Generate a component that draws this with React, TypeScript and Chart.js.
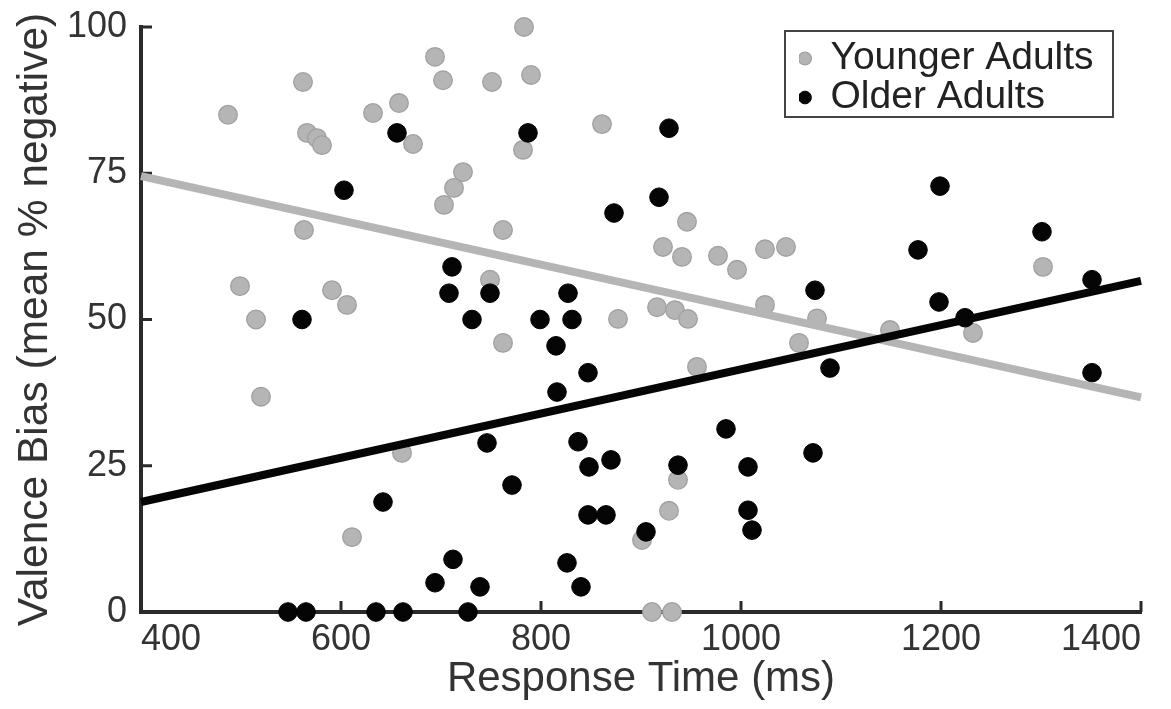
import React, { useEffect, useRef } from 'react';
import { Chart, registerables } from 'chart.js';

Chart.register(...registerables);

// Younger adults (grey)
const youngerRT = [487, 562, 566, 576, 581, 632, 658, 672, 694, 702, 722, 713, 703, 563, 499, 591, 606, 515, 520, 611, 661, 783, 751, 790, 782, 861, 762, 946, 922, 941, 977, 996, 1024, 1045, 749, 916, 934, 947, 877, 1024, 1058, 1076, 956, 762, 937, 928, 901, 911, 931, 1149, 1232, 1302];
const youngerBias = [85.0, 90.6, 81.9, 81.0, 79.8, 85.3, 87.0, 80.0, 94.9, 90.9, 75.2, 72.5, 69.6, 65.3, 55.7, 55.0, 52.5, 50.0, 36.8, 12.8, 27.2, 100, 90.6, 91.8, 79.0, 83.4, 65.3, 66.7, 62.4, 60.7, 60.9, 58.5, 62.0, 62.4, 56.8, 52.1, 51.6, 50.1, 50.1, 52.5, 46.0, 50.2, 41.9, 46.0, 22.6, 17.3, 12.3, 0, 0, 48.2, 47.7, 59.0];

// Older adults (black)
const olderRT = [656, 603, 711, 708, 561, 731, 787, 928, 873, 918, 749, 827, 1074, 799, 831, 1199, 1177, 1301, 1198, 1351, 1224, 815, 847, 816, 746, 837, 848, 870, 771, 937, 985, 1007, 1007, 1011, 847, 865, 905, 826, 840, 739, 727, 1089, 1351, 1072, 642, 712, 694, 547, 565, 635, 662];
const olderBias = [81.9, 72.1, 59.0, 54.5, 50, 50, 81.9, 82.7, 68.2, 70.9, 54.5, 54.5, 55.0, 50, 50, 72.8, 61.9, 65.0, 53.0, 56.8, 50.3, 45.5, 40.9, 37.6, 28.9, 29.1, 24.8, 26.0, 21.7, 25.1, 31.3, 24.8, 17.4, 14.0, 16.6, 16.6, 13.7, 8.4, 4.3, 4.3, 0, 41.7, 40.9, 27.2, 18.8, 9.0, 5.0, 0, 0, 0, 0];

// Regression lines
const fitRT = [400, 1400];
const youngerFit = [74.5, 36.7];
const olderFit = [18.8, 56.6];

// Axis ticks
const xTicks = [400, 600, 800, 1000, 1200, 1400];
const yTicks = [0, 25, 50, 75, 100];

const FONT = "'Liberation Sans', Arial, Helvetica, sans-serif";
const TEXT = '#333333';
const AXIS = '#2a2a2a';
const GREY = '#b5b5b5';
const GREY_EDGE = '#a0a0a0';
const BLACK = '#050505';

const toXY = (xs: number[], ys: number[]) => xs.map((x, i) => ({ x, y: ys[i] }));

const axesPlugin = {
  id: 'matlabAxes',
  beforeDraw(chart: any) {
    const lg = chart.legend;
    const ca = chart.chartArea;
    if (lg && ca) {
      const left = ca.right - 342;
      const top = ca.top + 12;
      const w = lg.width;
      lg.left = left;
      lg.top = top;
      lg.right = left + w;
      lg.bottom = top + 200;
    }
  },
  beforeDatasetsDraw(chart: any) {
    const { ctx, chartArea, scales } = chart;
    const xs = scales.x;
    const ys = scales.y;
    ctx.save();
    ctx.strokeStyle = AXIS;
    ctx.lineWidth = 3;
    ctx.lineCap = 'butt';
    ctx.beginPath();
    for (const v of xTicks) {
      const px = xs.getPixelForValue(v);
      ctx.moveTo(px, chartArea.bottom);
      ctx.lineTo(px, chartArea.bottom - 11);
    }
    for (const v of yTicks) {
      const py = ys.getPixelForValue(v);
      ctx.moveTo(chartArea.left, py);
      ctx.lineTo(chartArea.left + 11, py);
    }
    ctx.stroke();
    ctx.restore();
  },
  afterDraw(chart: any) {
    const lg = chart.legend;
    const ca = chart.chartArea;
    if (!lg || !ca) return;
    const { ctx } = chart;
    const left = ca.right - 356;
    const top = ca.top + 4;
    ctx.save();
    ctx.strokeStyle = '#444444';
    ctx.lineWidth = 2;
    ctx.strokeRect(left, top, 328, 86);
    ctx.restore();
  },
};

export default function App() {
  const ref = useRef<HTMLCanvasElement>(null);

  useEffect(() => {
    if (!ref.current) return;
    const chart = new Chart(ref.current, {
      type: 'scatter',
      data: {
        datasets: [
          {
            label: 'Older fit',
            data: toXY(fitRT, olderFit),
            showLine: true,
            borderColor: BLACK,
            backgroundColor: BLACK,
            borderWidth: 8,
            pointRadius: 0,
            borderCapStyle: 'butt',
            clip: false,
          } as any,
          {
            label: 'Younger fit',
            data: toXY(fitRT, youngerFit),
            showLine: true,
            borderColor: GREY,
            backgroundColor: GREY,
            borderWidth: 8,
            pointRadius: 0,
            borderCapStyle: 'butt',
            clip: false,
          } as any,
          {
            label: 'Older Adults',
            data: toXY(olderRT, olderBias),
            backgroundColor: BLACK,
            borderColor: '#000000',
            borderWidth: 1,
            pointRadius: 9.3,
            pointHoverRadius: 9.3,
            clip: false,
          } as any,
          {
            label: 'Younger Adults',
            data: toXY(youngerRT, youngerBias),
            backgroundColor: GREY,
            borderColor: GREY_EDGE,
            borderWidth: 1.3,
            pointRadius: 9.3,
            pointHoverRadius: 9.3,
            clip: false,
          } as any,
        ],
      },
      options: {
        responsive: false,
        animation: false,
        devicePixelRatio: 1,
        events: [],
        layout: { padding: { left: 0, right: 30, top: 27, bottom: 0 } },
        plugins: {
          tooltip: { enabled: false },
          legend: {
            display: true,
            position: 'chartArea',
            align: 'start',
            labels: {
              usePointStyle: true,
              pointStyle: 'circle',
              boxWidth: 12,
              boxHeight: 9,
              padding: 0,
              color: '#222222',
              font: { family: FONT, size: 39 },
              filter: (item: any) => item.datasetIndex >= 2,
              sort: (a: any, b: any) => b.datasetIndex - a.datasetIndex,
            },
          } as any,
        },
        scales: {
          x: {
            type: 'linear',
            min: 400,
            max: 1400,
            afterBuildTicks: (scale: any) => {
              scale.ticks = xTicks.map((v) => ({ value: v }));
            },
            afterFit: (scale: any) => {
              scale.height = 97;
              scale.paddingLeft = 0;
              scale.paddingRight = 0;
            },
            ticks: {
              align: 'inner',
              autoSkip: false,
              maxRotation: 0,
              padding: 6,
              color: TEXT,
              font: { family: FONT, size: 36 },
              callback: (v: any) => String(v),
            },
            grid: { display: true, drawOnChartArea: false, drawTicks: false },
            border: { display: true, color: AXIS, width: 4 },
            title: {
              display: true,
              text: 'Response Time (ms)',
              color: TEXT,
              font: { family: FONT, size: 42 },
              padding: { top: 0, bottom: 4 },
            },
          },
          y: {
            type: 'linear',
            min: 0,
            max: 100,
            afterBuildTicks: (scale: any) => {
              scale.ticks = yTicks.map((v) => ({ value: v }));
            },
            afterFit: (scale: any) => {
              scale.width = 141;
              scale.paddingTop = 0;
              scale.paddingBottom = 0;
            },
            ticks: {
              padding: 14,
              color: TEXT,
              font: { family: FONT, size: 36 },
              callback: (v: any) => String(v),
            },
            grid: { display: true, drawOnChartArea: false, drawTicks: false },
            border: { display: true, color: AXIS, width: 4 },
            title: {
              display: true,
              text: 'Valence Bias (mean % negative)',
              color: TEXT,
              font: { family: FONT, size: 42.5 },
              padding: { top: 10, bottom: 0 },
            },
          },
        },
      },
      plugins: [axesPlugin as any],
    });
    return () => chart.destroy();
  }, []);

  return (
    <div style={{ position: 'fixed', left: 0, top: 0, width: 1171, height: 709, background: '#ffffff' }}>
      <canvas ref={ref} width={1171} height={709} style={{ display: 'block' }} />
    </div>
  );
}
